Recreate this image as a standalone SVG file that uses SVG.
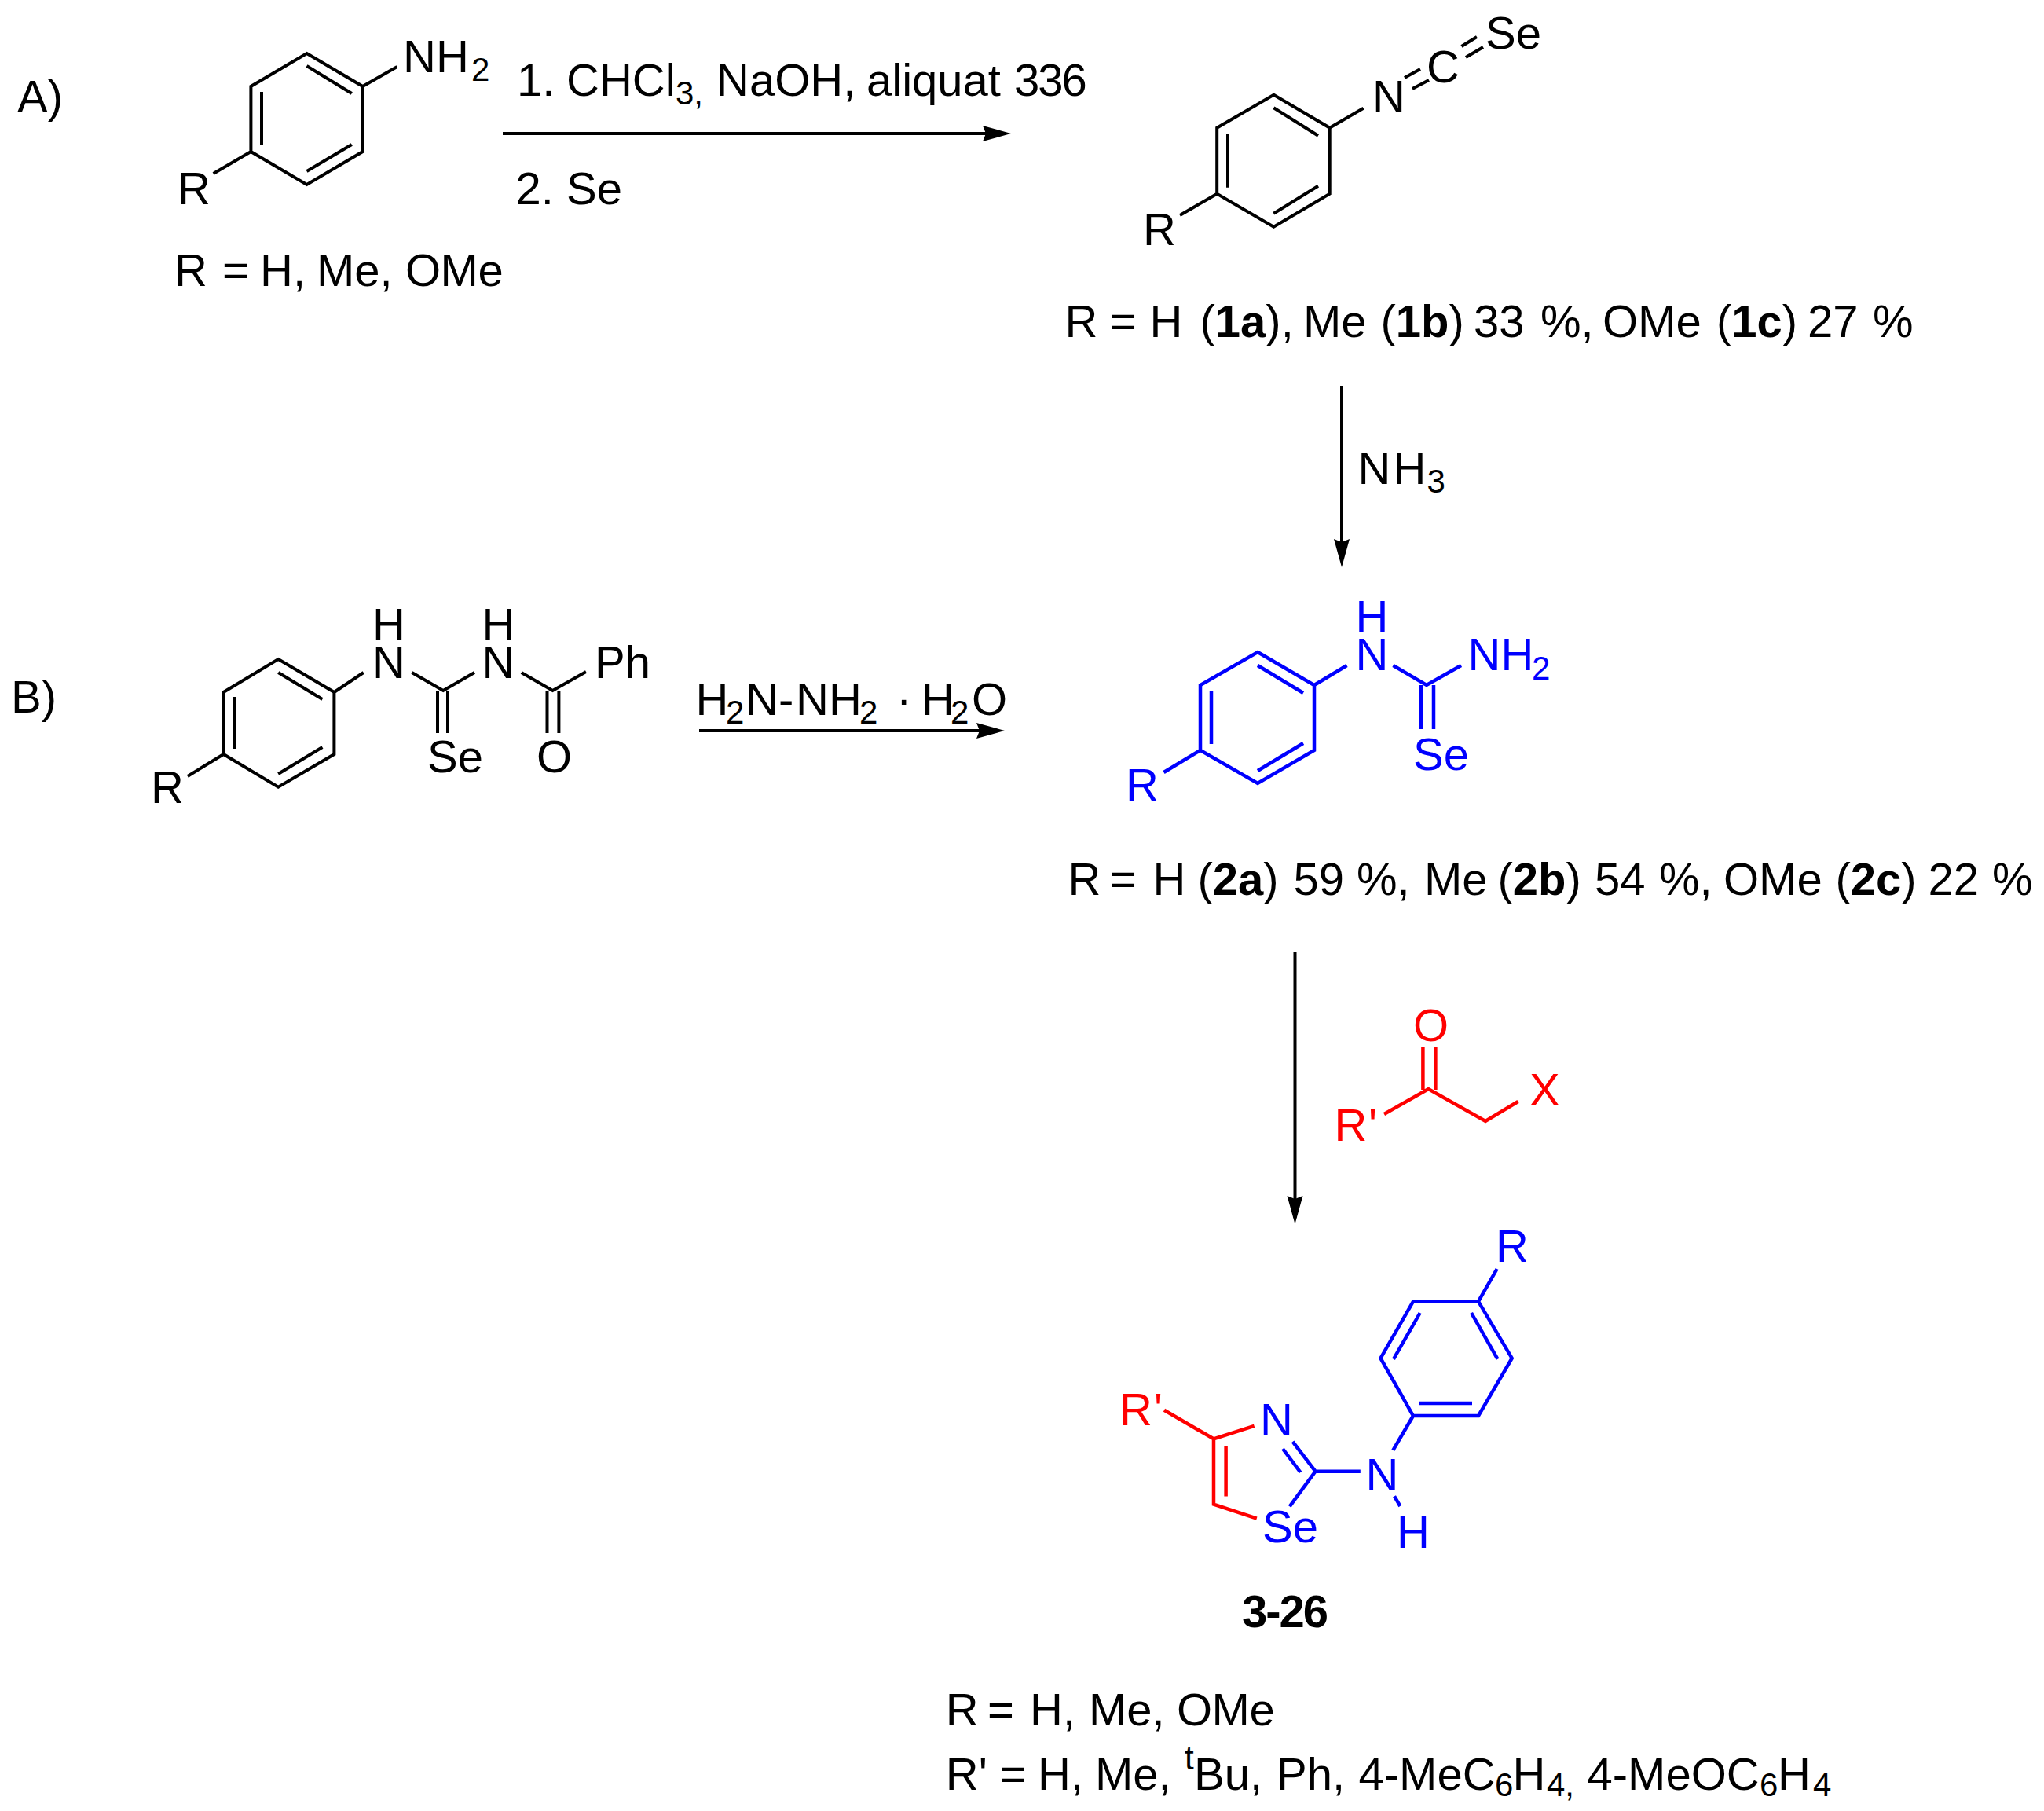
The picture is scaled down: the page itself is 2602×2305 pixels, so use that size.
<svg xmlns="http://www.w3.org/2000/svg" width="2602" height="2305" viewBox="0 0 2602 2305">
<style>
text{font-family:"Liberation Sans",Arial,sans-serif;font-size:58px;fill:#000}
.blue text,text.blue{fill:#0000ff}
.red text,text.red{fill:#ff0000}
.s{font-size:42px}
.b{font-weight:bold}
path{fill:none;stroke:#000;stroke-width:4;stroke-linejoin:miter}
.blue path,path.blue{stroke:#0000ff;stroke-width:4.5}
.red path,path.red{stroke:#ff0000;stroke-width:4.5}
#connectors line{stroke:#000;stroke-width:4}
</style>
<defs>
<marker id="head" markerUnits="userSpaceOnUse" markerWidth="40" markerHeight="22" refX="28" refY="10" orient="auto"><polygon points="36,10 0,0 4,10 0,20" fill="#000"/></marker>
</defs>
<rect width="2602" height="2305" fill="#fff"/>
<g id="connectors">
<line x1="640" y1="170" x2="1279" y2="170" marker-end="url(#head)"/>
<line x1="1708" y1="491" x2="1708" y2="714" marker-end="url(#head)"/>
<line x1="890" y1="930" x2="1271" y2="930" marker-end="url(#head)"/>
<line x1="1648.5" y1="1212" x2="1648.5" y2="1550" marker-end="url(#head)"/>
</g>
<g id="label-A"><text x="22" y="143">A)</text></g>
<g id="label-B"><text x="14" y="907">B)</text></g>
<g id="aniline">
<path d="M390.5 68L461.7 110V193L390.5 235L319.4 193V110ZM390.5 84L447.8 119M333 117V184M390.5 218L447.8 184M461.7 110L505.5 85M319.4 193L271.6 221"/>
<text x="513" y="92">NH<tspan class="s" x="600" y="103">2</tspan></text>
<text x="226" y="260">R</text>
<text y="364"><tspan x="222">R </tspan><tspan x="283">= </tspan><tspan x="331">H, </tspan><tspan x="403">Me, </tspan><tspan x="516" letter-spacing="-0.5">OMe</tspan></text>
</g>
<g id="conditions-1">
<text y="122"><tspan x="658">1. </tspan><tspan x="721">CHCl</tspan><tspan class="s" x="860" y="133">3,</tspan><tspan x="912" y="122">NaOH, </tspan><tspan x="1103">aliquat </tspan><tspan x="1291" letter-spacing="-2">336</tspan></text>
<text x="656.5" y="260">2. Se</text>
</g>
<g id="isoselenocyanate">
<path d="M1621.4 120.7L1692.7 162.7V246.7L1621.4 288.7L1549.2 246.7V162.7ZM1621.4 137.3L1678 172.7M1563 170V238.7M1621.4 271.7L1678 236.7M1692.7 162.7L1735.6 137.7M1549.2 246.7L1502 274"/>
<path d="M1788 99L1808 88M1798 113L1819 102M1860.5 59L1880 47M1866 73L1888 60"/>
<text x="1747" y="143">N</text>
<text x="1816" y="105">C</text>
<text x="1891" y="62">Se</text>
<text x="1455" y="312">R</text>
<text y="429"><tspan x="1355.5">R </tspan><tspan x="1413">= </tspan><tspan x="1463.5">H </tspan><tspan x="1527.5">(</tspan><tspan class="b">1a</tspan><tspan>), </tspan><tspan x="1659">Me </tspan><tspan x="1757.5">(</tspan><tspan class="b">1b</tspan><tspan>) </tspan><tspan x="1876">33 </tspan><tspan x="1961">%, </tspan><tspan x="2040">OMe </tspan><tspan x="2185">(</tspan><tspan class="b">1c</tspan><tspan>) </tspan><tspan x="2301">27 </tspan><tspan x="2384">%</tspan></text>
</g>
<g id="conditions-2"><text y="616"><tspan x="1728.5">N</tspan><tspan x="1773.5">H</tspan><tspan class="s" x="1816.5" y="627">3</tspan></text></g>
<g id="benzoyl-selenourea">
<path d="M354.2 839L425.4 881V960L354.2 1001.7L284.6 960V881ZM354.2 856L410.4 890M298.5 887V953M354.2 985L410.4 951M425.4 881L462.7 856M524.4 856L564.2 879L604 856M663.7 856L703.5 879L746 855M557 880V933M570 880V933M696.5 880V933M711.4 880V933M284.6 960L238.8 988"/>
<text x="474" y="815">H</text>
<text x="474" y="863">N</text>
<text x="613.5" y="815">H</text>
<text x="613.5" y="863">N</text>
<text x="757" y="863">Ph</text>
<text x="544" y="983">Se</text>
<text x="683" y="983">O</text>
<text x="192" y="1022">R</text>
</g>
<g id="conditions-3"><text y="910"><tspan x="885.5">H</tspan><tspan class="s" x="924" y="921">2</tspan><tspan x="949" y="910">N-</tspan><tspan x="1013">NH</tspan><tspan class="s" x="1094" y="921">2</tspan><tspan x="1141" y="910">· </tspan><tspan x="1173">H</tspan><tspan class="s" x="1210" y="921">2</tspan><tspan x="1237" y="910">O</tspan></text></g>
<g id="selenourea" class="blue">
<path d="M1601 830L1673 872V955L1601 997L1528 955V872ZM1601 847L1659 882M1542 880V947M1601 981L1659 946M1673 872L1714.5 847M1773.5 847L1816 872L1860 847M1809 872V928M1825 872V928M1528 955L1481.5 983"/>
<text x="1725.5" y="805">H</text>
<text x="1725.5" y="853">N</text>
<text x="1868.5" y="853">NH<tspan class="s" x="1950" y="865">2</tspan></text>
<text x="1799" y="980">Se</text>
<text x="1433" y="1019">R</text>
</g>
<g id="yields-2"><text y="1139"><tspan x="1359.5">R </tspan><tspan x="1413">= </tspan><tspan x="1467.5">H </tspan><tspan x="1524.5">(</tspan><tspan class="b">2a</tspan><tspan>) </tspan><tspan x="1646.5">59 </tspan><tspan x="1727">%, </tspan><tspan x="1813">Me </tspan><tspan x="1906.5">(</tspan><tspan class="b">2b</tspan><tspan>) </tspan><tspan x="2030">54 </tspan><tspan x="2112">%, </tspan><tspan x="2194">OMe </tspan><tspan x="2336.5">(</tspan><tspan class="b">2c</tspan><tspan>) </tspan><tspan x="2454.5">22 </tspan><tspan x="2536">%</tspan></text></g>
<g id="haloketone" class="red">
<path d="M1811.4 1332V1387M1827.4 1332V1387M1762 1418L1818.4 1386L1891 1427L1932.5 1402"/>
<text x="1799" y="1325">O</text>
<text x="1698.5" y="1452">R<tspan x="1742">'</tspan></text>
<text x="1947" y="1407">X</text>
</g>
<g id="selenazole">
<path class="red" d="M1482 1794.8L1545 1831.4V1914.7L1599.8 1932.6M1545 1831.4L1596.6 1814.8M1560.6 1840.6V1904.4"/>
<path class="blue" d="M1799 1656.4H1882L1924.7 1728.7L1882 1802H1799L1757.5 1728.7ZM1807.7 1671L1774 1729.8M1873 1671L1906.5 1729.8M1807 1786H1874M1905.7 1615L1882 1656.4M1799 1802L1773.3 1845.8M1775 1904.4L1782.4 1917M1731.8 1872.7H1674.5L1641.7 1917.4M1645.6 1834.8L1674.5 1872.7M1633 1844L1655.5 1874"/>
<text class="blue" x="1904" y="1606">R</text>
<text class="blue" x="1738.5" y="1897">N</text>
<text class="blue" x="1778" y="1970">H</text>
<text class="blue" x="1604" y="1827">N</text>
<text class="blue" x="1607" y="1963">Se</text>
<text class="red" x="1425" y="1814">R<tspan x="1469">'</tspan></text>
<text class="b" x="1581" y="2071" letter-spacing="-2">3-26</text>
</g>
<g id="substituents">
<text y="2196"><tspan x="1203.8">R </tspan><tspan x="1257">= </tspan><tspan x="1311">H, </tspan><tspan x="1386">Me, </tspan><tspan x="1498" letter-spacing="-0.5">OMe</tspan></text>
<text y="2278"><tspan x="1203.8">R' </tspan><tspan x="1272.6">= </tspan><tspan x="1321">H, </tspan><tspan x="1394">Me, </tspan><tspan class="s" x="1508" y="2252">t</tspan><tspan x="1520" y="2278">Bu, </tspan><tspan x="1625">Ph, </tspan><tspan x="1729.5">4-MeC</tspan><tspan class="s" x="1903" y="2286">6</tspan><tspan x="1925.5" y="2278">H</tspan><tspan class="s" x="1969" y="2286">4,</tspan><tspan x="2020.5" y="2278">4-MeOC</tspan><tspan class="s" x="2240" y="2286">6</tspan><tspan x="2263" y="2278">H</tspan><tspan class="s" x="2308" y="2286">4</tspan></text>
</g>
</svg>
